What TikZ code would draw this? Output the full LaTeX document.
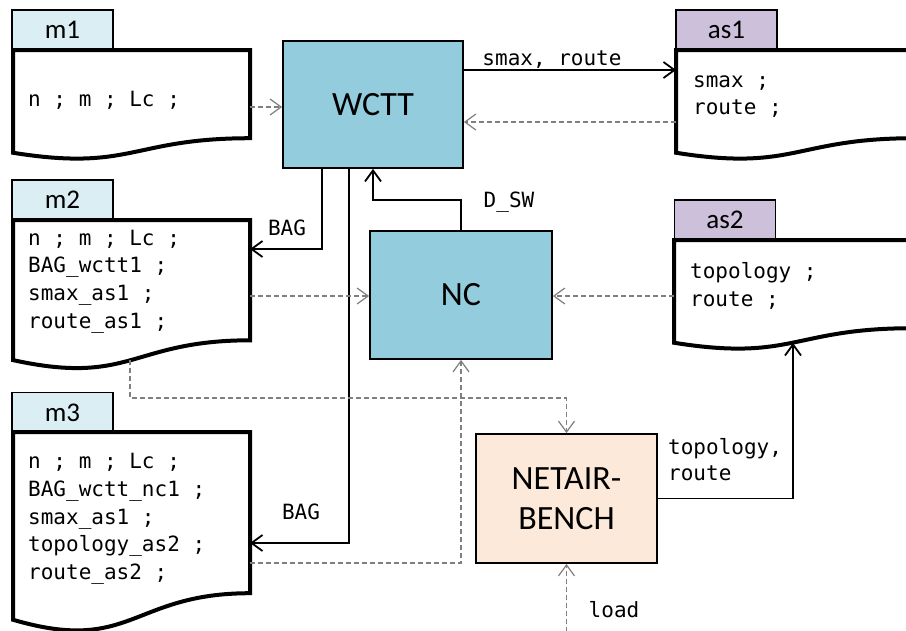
\documentclass[tikz,border=0pt]{standalone}
\usepackage{fontspec}
\setmainfont{Carlito}
\newfontfamily\codefont{DejaVu Sans Mono}
\usetikzlibrary{arrows.meta}

\definecolor{toolblue}{HTML}{93CDDD}
\definecolor{tabblue}{HTML}{DBEEF4}
\definecolor{tablilac}{HTML}{CCC0DA}
\definecolor{benchpeach}{HTML}{FDE9D9}
\definecolor{refgray}{HTML}{7F7F7F}

\tikzset{
  tool/.style={draw=black, line width=1.8pt, inner sep=0pt, align=center,
    font=\fontsize{34}{40}\selectfont},
  tab/.style={draw=black, line width=1.3pt, minimum width=101pt, minimum height=40pt,
    inner sep=0pt, font=\fontsize{27}{30}\selectfont},
  docbody/.style={draw=black, line width=4pt, fill=white},
  code/.style={font=\codefont\fontsize{21}{27.7}\selectfont, align=left,
    inner sep=0pt, anchor=west},
  lbl/.style={font=\codefont\fontsize{21}{26}\selectfont, align=left, inner sep=0pt},
  flow/.style={draw=black, line width=1.8pt,
    -{Straight Barb[length=11pt,width=16pt,line width=1.8pt]}},
  ref/.style={draw=refgray, line width=1.2pt, dash pattern=on 5pt off 3pt,
    -{Straight Barb[length=11pt,width=16pt,line width=1.2pt]}}
}

% flow-chart "document" outline: left x, top y, width, height
\newcommand\docpath[4]{%
  \path[docbody] (#1,#2) -- ({#1+#3},#2) -- ({#1+#3},{#2+0.802*#4})
    .. controls ({#1+0.5*#3},{#2+0.802*#4}) and ({#1+0.5*#3},{#2+1.107*#4})
    .. (#1,{#2+0.934*#4}) -- cycle;}

\begin{document}
\begin{tikzpicture}[x=1pt, y=-1pt]
  \fill[white] (0,0) rectangle (906,630);
  \clip (0,0) rectangle (906,630);

  % ---- data files ----
  \node[tab, fill=tabblue] (m1tab) at (62.5,30) {m1};
  \docpath{13}{50}{237}{110}
  \node[code] (m1txt) at (28,100) {n ; m ; Lc ;};

  \node[tab, fill=tabblue] (m2tab) at (62.5,200) {m2};
  \docpath{13}{220}{237}{150}
  \node[code] (m2txt) at (28,281.5) {n ; m ; Lc ;\\BAG\_wctt1 ;\\smax\_as1 ;\\route\_as1 ;};

  \node[tab, fill=tabblue] (m3tab) at (62.5,412.5) {m3};
  \docpath{13}{432}{237}{201}
  \node[code] (m3txt) at (28,519) {n ; m ; Lc ;\\BAG\_wctt\_nc1 ;\\smax\_as1 ;\\topology\_as2 ;\\route\_as2 ;};

  \node[tab, fill=tablilac] (as1tab) at (726.5,30) {as1};
  \docpath{676}{50}{238}{110}
  \node[code] (as1txt) at (693,96.5) {smax ;\\route ;};

  \node[tab, fill=tablilac] (as2tab) at (725,220) {as2};
  \docpath{674}{240}{238}{110}
  \node[code] (as2txt) at (690,286) {topology ;\\route ;};

  % ---- tools ----
  \node[tool, fill=toolblue, minimum width=180pt, minimum height=127pt] (wctt) at (373,104.5) {WCTT};
  \node[tool, fill=toolblue, minimum width=182pt, minimum height=128pt] (nc) at (461,295) {NC};
  \node[tool, fill=benchpeach, minimum width=181pt, minimum height=129pt] (bench) at (566.5,498.5) {NETAIR-\\BENCH};

  % ---- connector ends on the file outlines ----
  \coordinate (m1out) at (250,107);
  \coordinate (as1in) at (676,70);
  \coordinate (as1out) at (676,122);
  \coordinate (m2in) at (250,249);
  \coordinate (m2out) at (250,296);
  \coordinate (m2low) at (130,360);
  \coordinate (m3in) at (250,543);
  \coordinate (m3out) at (250,563);
  \coordinate (as2out) at (674,296);
  \coordinate (as2low) at (793,343);
  \coordinate (loadsrc) at (566.5,640);

  % ---- connectors ----
  \draw[ref] (m1out) -- (m1out -| wctt.west);
  \draw[flow] (as1in -| wctt.east) -- (as1in);
  \draw[ref] (as1out) -- (as1out -| wctt.east);
  \draw[flow] ([xshift=40pt]wctt.south west) |- (m2in);
  \draw[flow] ([xshift=67pt]wctt.south west) |- (m3in);
  \draw[flow] (nc.north) -- ++(0,-30) -| (wctt.south);
  \draw[ref] (m2out) -- (m2out -| nc.west);
  \draw[ref] (as2out) -- (as2out -| nc.east);
  \draw[ref] (m2low) -- ++(0,38) -| (bench.north);
  \draw[ref] (m3out) -| (nc.south);
  \draw[flow] (bench.east) -| (as2low);
  \draw[ref] (loadsrc) -- (bench.south);

  % ---- connector labels ----
  \node[lbl] (lsmax) at (552,60) {smax, route};
  \node[lbl] (lbag1) at (287,228) {BAG};
  \node[lbl] (ldsw) at (509,202) {D\_SW};
  \node[lbl] (lbag2) at (301,512) {BAG};
  \node[lbl, anchor=west] (ltopo) at (668,460) {topology,\\route};
  \node[lbl] (lload) at (614,610) {load};
\end{tikzpicture}
\end{document}
